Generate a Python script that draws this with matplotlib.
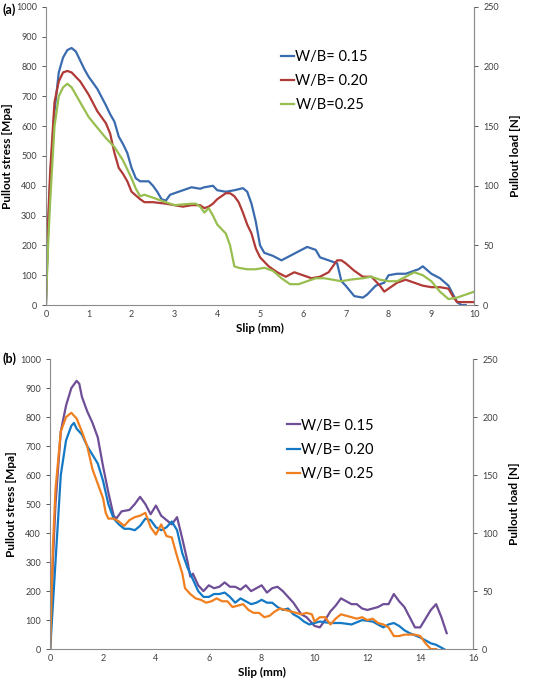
import matplotlib
matplotlib.use("Agg")
import matplotlib.pyplot as plt

plt.rcParams['font.family'] = ['Lato', 'DejaVu Sans']

# ---------------- Panel (a) data ----------------
a_x15 = [0, 0.05, 0.1, 0.2, 0.3, 0.4, 0.5, 0.6, 0.7, 0.8, 0.9, 1.0, 1.2, 1.4, 1.5, 1.6, 1.7, 1.8, 1.9, 2.0,
         2.1, 2.2, 2.4, 2.5, 2.6, 2.7, 2.8, 2.9, 3.0, 3.2, 3.4, 3.6, 3.7, 3.9, 4.0, 4.2, 4.4, 4.6, 4.7, 4.8,
         4.9, 5.0, 5.1, 5.3, 5.5, 5.7, 5.9, 6.1, 6.3, 6.4, 6.6, 6.8, 6.9, 7.0, 7.2, 7.4, 7.5, 7.7, 7.9, 8.0,
         8.2, 8.4, 8.6, 8.7, 8.8, 9.0, 9.2, 9.4, 9.6, 9.7, 9.8]
a_y15 = [0, 250, 420, 650, 780, 830, 855, 862, 850, 820, 790, 765, 725, 670, 640, 615, 565, 540, 510, 460,
         425, 415, 415, 400, 380, 355, 350, 370, 375, 385, 395, 390, 395, 400, 385, 380, 385, 392, 380, 340,
         280, 200, 175, 165, 150, 165, 180, 195, 185, 160, 150, 140, 80, 65, 30, 25, 35, 65, 75, 100,
         105, 105, 115, 120, 130, 105, 90, 65, 10, 0, 0]

a_x20 = [0, 0.05, 0.1, 0.2, 0.3, 0.4, 0.5, 0.6, 0.8, 1.0, 1.2, 1.4, 1.5, 1.6, 1.7, 1.8, 1.9, 2.0, 2.2, 2.3,
         2.5, 2.8, 3.0, 3.2, 3.4, 3.6, 3.7, 3.8, 3.9, 4.0, 4.2, 4.3, 4.4, 4.5, 4.6, 4.7, 4.8, 4.9, 5.0, 5.2,
         5.4, 5.6, 5.8, 6.0, 6.2, 6.4, 6.6, 6.8, 6.9, 7.0, 7.2, 7.4, 7.6, 7.8, 7.9, 8.0, 8.2, 8.4, 8.6, 8.8,
         9.0, 9.2, 9.4, 9.5, 9.6, 9.8, 10.0]
a_y20 = [0, 280, 450, 680, 750, 780, 785, 780, 750, 705, 650, 610, 575, 510, 460, 440, 415, 380, 355, 345,
         345, 340, 335, 330, 335, 335, 325, 330, 340, 355, 375, 375, 365, 345, 310, 270, 240, 190, 160, 130,
         110, 95, 110, 100, 90, 95, 110, 150, 150, 140, 115, 95, 95, 65, 45, 55, 75, 85, 75, 65,
         60, 60, 55, 30, 10, 10, 10]

a_x25 = [0, 0.05, 0.1, 0.2, 0.3, 0.4, 0.5, 0.6, 0.8, 1.0, 1.2, 1.4, 1.6, 1.8, 2.0, 2.1, 2.2, 2.3, 2.5, 2.8,
         3.0, 3.4, 3.5, 3.6, 3.7, 3.8, 3.9, 4.0, 4.2, 4.3, 4.4, 4.5, 4.7, 4.9, 5.1, 5.3, 5.5, 5.7, 5.9, 6.1,
         6.3, 6.5, 6.7, 6.9, 7.1, 7.4, 7.6, 7.8, 8.0, 8.2, 8.4, 8.6, 8.8, 9.0, 9.2, 9.4, 9.6, 9.8, 10.0]
a_y25 = [0, 200, 350, 600, 700, 730, 742, 730, 680, 630, 595, 560, 530, 485, 425, 390, 365, 370, 360, 345,
         335, 340, 340, 330, 310, 325, 300, 270, 240, 200, 130, 125, 120, 120, 125, 115, 90, 70, 70, 80,
         90, 90, 85, 80, 85, 90, 95, 85, 80, 80, 95, 110, 100, 80, 45, 20, 25, 35, 45]

# ---------------- Panel (b) data ----------------
b_x15 = [0, 0.1, 0.2, 0.4, 0.6, 0.8, 1.0, 1.1, 1.2, 1.4, 1.6, 1.8, 2.0, 2.2, 2.4, 2.5, 2.7, 3.0, 3.2, 3.4,
         3.6, 3.8, 4.0, 4.2, 4.4, 4.6, 4.8, 5.0, 5.2, 5.3, 5.4, 5.6, 5.8, 6.0, 6.2, 6.4, 6.6, 6.8, 7.0, 7.2,
         7.4, 7.6, 7.8, 8.0, 8.2, 8.4, 8.6, 8.8, 9.0, 9.2, 9.5, 9.7, 10.0, 10.2, 10.4, 10.6, 10.8, 11.0, 11.2,
         11.4, 11.6, 11.8, 12.0, 12.2, 12.4, 12.6, 12.8, 13.0, 13.2, 13.4, 13.6, 13.8, 14.0, 14.2, 14.4, 14.6,
         14.8, 15.0]
b_y15 = [0, 300, 500, 750, 840, 900, 925, 915, 870, 820, 780, 730, 630, 540, 460, 450, 475, 480, 500, 525,
         500, 465, 495, 460, 445, 430, 455, 380, 300, 250, 260, 220, 200, 220, 210, 215, 230, 215, 215, 205,
         220, 200, 210, 220, 195, 210, 215, 200, 180, 160, 120, 110, 80, 75, 100, 130, 150, 175, 165,
         155, 155, 140, 135, 140, 145, 155, 155, 190, 165, 145, 110, 75, 75, 105, 135, 155,
         110, 55]

b_x20 = [0, 0.1, 0.2, 0.4, 0.6, 0.8, 0.9, 1.0, 1.2, 1.4, 1.6, 1.8, 2.0, 2.2, 2.4, 2.6, 2.8, 3.0, 3.2, 3.4,
         3.6, 3.8, 4.0, 4.2, 4.4, 4.6, 4.8, 5.0, 5.2, 5.4, 5.6, 5.8, 6.0, 6.2, 6.4, 6.6, 6.8, 7.0, 7.2, 7.4,
         7.6, 7.8, 8.0, 8.2, 8.4, 8.6, 8.8, 9.0, 9.2, 9.4, 9.6, 9.8, 10.0, 10.2, 10.6, 11.0, 11.4, 11.8, 12.2,
         12.6, 12.8, 13.0, 13.2, 13.4, 13.6, 14.0, 14.2, 14.4, 14.6, 14.8, 14.9]
b_y20 = [0, 150, 300, 600, 720, 770, 780, 760, 740, 700, 670, 640, 580, 500, 450, 430, 415, 415, 410, 425,
         450, 445, 420, 410, 420, 440, 410, 330, 280, 240, 200, 180, 180, 190, 190, 195, 180, 160, 175, 165,
         155, 160, 170, 160, 160, 145, 135, 140, 120, 110, 95, 85, 90, 95, 90, 90, 85, 100, 95,
         75, 85, 90, 80, 65, 55, 40, 30, 20, 15, 5, 0]

b_x25 = [0, 0.1, 0.2, 0.4, 0.6, 0.8, 1.0, 1.2, 1.4, 1.6, 1.8, 2.0, 2.1, 2.2, 2.4, 2.6, 2.8, 3.0, 3.2, 3.4,
         3.6, 3.8, 4.0, 4.2, 4.4, 4.6, 4.8, 5.0, 5.1, 5.3, 5.5, 5.7, 5.9, 6.1, 6.3, 6.5, 6.7, 6.9, 7.1, 7.3,
         7.5, 7.7, 7.9, 8.1, 8.3, 8.5, 8.7, 8.9, 9.1, 9.3, 9.5, 9.7, 9.9, 10.0, 10.2, 10.4, 10.6, 10.8, 11.0,
         11.2, 11.4, 11.6, 11.8, 12.0, 12.2, 12.4, 12.6, 12.8, 13.0, 13.2, 13.4, 13.8, 14.0, 14.2, 14.4, 14.6]
b_y25 = [0, 350, 550, 750, 800, 815, 795, 750, 700, 620, 570, 520, 470, 450, 450, 440, 425, 445, 455, 460,
         470, 420, 395, 430, 390, 385, 320, 260, 210, 190, 175, 170, 160, 165, 175, 165, 165, 145, 150, 155,
         135, 125, 125, 110, 115, 130, 140, 135, 130, 125, 120, 125, 120, 95, 110, 110, 85, 105, 120,
         115, 110, 105, 110, 100, 105, 90, 85, 75, 45, 45, 50, 50, 45, 20, 0, 0]

y_ticks = [0, 100, 200, 300, 400, 500, 600, 700, 800, 900, 1000]
load_ticks = [0, 50, 100, 150, 200, 250]
a_xticks = list(range(0, 11))
b_xticks = list(range(0, 17, 2))

a_labels = ["W/B= 0.15", "W/B= 0.20", "W/B=0.25"]
b_labels = ["W/B= 0.15", "W/B= 0.20", "W/B= 0.25"]
a_colors = ["#3A6BAE", "#B03A36", "#97BE4E"]
b_colors = ["#6E4E96", "#1479C4", "#F0801F"]

fig = plt.figure(figsize=(5.34, 6.84), dpi=100)
spine_c = "#8C8C8C"
tick_c = "#404040"


def style(ax, xmax, xticks):
    ax.set_xlim(0, xmax)
    ax.set_ylim(0, 1000)
    ax.set_xticks(xticks)
    ax.set_yticks(y_ticks)
    ax.tick_params(axis='both', labelsize=6.5, colors=tick_c, length=3, width=0.6, direction='out')
    ax.tick_params(axis='x', length=0)
    ax.spines['top'].set_visible(False)
    for s in ['left', 'bottom', 'right']:
        ax.spines[s].set_color(spine_c)
        ax.spines[s].set_linewidth(0.8)
    ax.set_ylabel("Pullout stress [Mpa]", fontsize=8.5, fontweight='bold', labelpad=2)
    ax2 = ax.twinx()
    ax2.set_ylim(0, 250)
    ax2.set_yticks(load_ticks)
    ax2.tick_params(axis='y', labelsize=6.5, colors=tick_c, length=3, width=0.6, direction='out')
    ax2.spines['top'].set_visible(False)
    ax2.spines['right'].set_color(spine_c)
    ax2.spines['left'].set_visible(False)
    ax2.spines['bottom'].set_visible(False)
    ax2.set_ylabel("Pullout load [N]", fontsize=8.5, fontweight='bold', labelpad=8)
    return ax2


# Panel (a)
axa = fig.add_axes([0.086, 0.554, 0.802, 0.436])
for xs, ys, c, lab in zip([a_x15, a_x20, a_x25], [a_y15, a_y20, a_y25], a_colors, a_labels):
    axa.plot(xs, ys, color=c, lw=1.6, label=lab)
style(axa, 10, a_xticks)
axa.set_xlabel("Slip (mm)", fontsize=8.5, fontweight='bold', labelpad=3)
axa.legend(loc='upper left', bbox_to_anchor=(0.535, 0.875), frameon=False, fontsize=10.5,
           handlelength=0.9, handletextpad=0.1, labelspacing=0.7, borderaxespad=0)

# Panel (b)
axb = fig.add_axes([0.094, 0.051, 0.792, 0.424])
for xs, ys, c, lab in zip([b_x15, b_x20, b_x25], [b_y15, b_y20, b_y25], b_colors, b_labels):
    axb.plot(xs, ys, color=c, lw=1.6, label=lab)
style(axb, 16, b_xticks)
axb.set_xlabel("Slip (mm)", fontsize=8.5, fontweight='bold', labelpad=3)
axb.legend(loc='upper left', bbox_to_anchor=(0.545, 0.815), frameon=False, fontsize=10.5,
           handlelength=0.9, handletextpad=0.1, labelspacing=0.7, borderaxespad=0)

fig.text(0.004, 0.995, "(a)", fontsize=9, fontweight='bold', va='top', ha='left')
fig.text(0.004, 0.485, "(b)", fontsize=9, fontweight='bold', va='top', ha='left')

fig.savefig("out.png", dpi=100)
